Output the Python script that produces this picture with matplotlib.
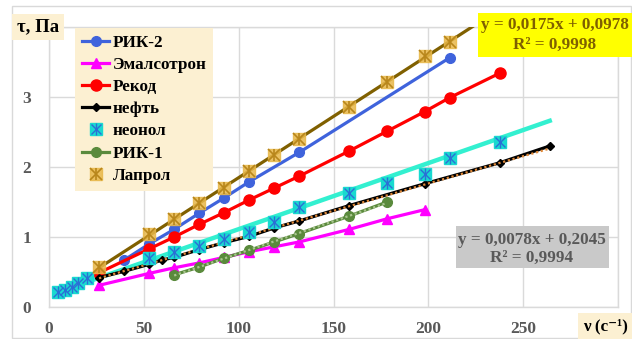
import matplotlib
matplotlib.use("Agg")
import matplotlib.pyplot as plt
import numpy as np
from matplotlib.lines import Line2D
from matplotlib.patches import Rectangle
from matplotlib.legend_handler import HandlerTuple

# ---- data ----
x_rik2 = [39.6, 52.8, 66, 79.2, 92.4, 105.6, 132, 211.2]
y_rik2 = [0.67, 0.90, 1.11, 1.34, 1.56, 1.79, 2.21, 3.56]

x_emal = [26.4, 52.8, 66, 79.2, 92.4, 105.6, 118.8, 132, 158.4, 178.2, 198]
y_emal = [0.31, 0.48, 0.56, 0.63, 0.71, 0.79, 0.86, 0.93, 1.11, 1.26, 1.39]

x_rekod = [26.4, 52.8, 66, 79.2, 92.4, 105.6, 118.8, 132, 158.4, 178.2, 198, 211.2, 237.6]
y_rekod = [0.49, 0.83, 1.00, 1.18, 1.35, 1.53, 1.70, 1.87, 2.23, 2.51, 2.79, 2.99, 3.34]

x_neft = [26.4, 39.6, 52.8, 59.4, 66, 79.2, 92.4, 105.6, 118.8, 132, 158.4, 198, 237.6, 264]
y_neft = [0.42, 0.51, 0.61, 0.67, 0.71, 0.82, 0.92, 1.01, 1.13, 1.23, 1.45, 1.76, 2.06, 2.30]

x_neon = [4.5, 8.5, 12, 15.5, 20, 52.8, 66, 79.2, 92.4, 105.6, 118.8, 132, 158.4, 178.2, 198, 211.2, 237.6]
y_neon = [0.21, 0.24, 0.29, 0.34, 0.41, 0.70, 0.79, 0.87, 0.97, 1.07, 1.21, 1.43, 1.63, 1.77, 1.90, 2.13, 2.36]

x_rik1 = [66, 79.2, 92.4, 105.6, 118.8, 132, 158.4, 178.2]
y_rik1 = [0.46, 0.57, 0.70, 0.81, 0.93, 1.05, 1.30, 1.50]

x_lap = [26.4, 52.8, 66, 79.2, 92.4, 105.6, 118.8, 132, 158.4, 178.2, 198, 211.2]
y_lap = [0.57, 1.04, 1.26, 1.48, 1.70, 1.94, 2.17, 2.40, 2.86, 3.21, 3.58, 3.79]

lap_coef = (0.0175, 0.0978)
neft_coef = (0.0078, 0.2045)
neon_coef = (0.00944, 0.168)   # trendline
neon_trend_end = 264
lap_trend_end = 240

labels = ["РИК-2", "Эмалсотрон", "Рекод", "нефть", "неонол", "РИК-1", "Лапрол"]
x_ticks = [0, 50, 100, 150, 200, 250]
y_ticks = [0, 1, 2, 3]

# ---- style ----
SERIF = ["Liberation Serif", "DejaVu Serif"]
plt.rcParams["font.family"] = SERIF
plt.rcParams["font.weight"] = "bold"

c_blue = "#3F63DC"
c_mag = "#FF00FF"
c_red = "#FF0000"
c_black = "#000000"
c_cyan = "#19D9D0"
c_turq = "#33F0D0"
c_green = "#5A8A3C"
c_gold = "#E8B84A"
c_olive = "#806000"
grid_c = "#DADADA"
tick_c = "#595959"

fig = plt.figure(figsize=(6.32, 3.39), dpi=100)
fig.patch.set_facecolor("white")
W, H = 632, 339
L, R, T, B = 49, 618, 27, 307
ax = fig.add_axes([L / W, (H - B) / H, (R - L) / W, (B - T) / H])

# outer chart border
fig.add_artist(Rectangle((12 / W, 1 / H), (W - 13) / W, (H - 7) / H,
                         transform=fig.transFigure, fill=False,
                         edgecolor="#D9D9D9", lw=1.0))

ax.set_xlim(0, 300)
ax.set_ylim(0, 4)
ax.set_xticks(np.arange(0, 301, 50))
ax.set_yticks(np.arange(0, 4.01, 1))
ax.grid(True, color=grid_c, lw=1.0)
ax.set_axisbelow(True)
for s in ax.spines.values():
    s.set_color(grid_c)
    s.set_linewidth(1.0)
ax.tick_params(length=0, colors=tick_c, labelsize=12.5)
ax.set_xticklabels([str(v) for v in x_ticks] + [""])
ax.set_yticklabels([str(v) for v in y_ticks] + [""])
ax.tick_params(axis="x", pad=10)
ax.tick_params(axis="y", pad=13)
for lab in ax.get_xticklabels() + ax.get_yticklabels():
    lab.set_fontweight("bold")

lw = 2.3
ms = 7

# Laprol trendline
xl = np.array([x_lap[0], lap_trend_end])
ax.plot(xl, lap_coef[0] * xl + lap_coef[1], color=c_olive, lw=2.3, zorder=3)

# neonol trendline
xn = np.array([x_neon[0], neon_trend_end])
ax.plot(xn, neon_coef[0] * xn + neon_coef[1], color=c_turq, lw=3.2, zorder=3)

# series
ax.plot(x_rik2, y_rik2, color=c_blue, lw=lw, marker="o", ms=ms, zorder=4)
ax.plot(x_emal, y_emal, color=c_mag, lw=lw, marker="^", ms=ms, zorder=4)
ax.plot(x_rekod, y_rekod, color=c_red, lw=lw, marker="o", ms=ms + 1, zorder=4)
ax.plot(x_neft, y_neft, color=c_black, lw=lw, marker="D", ms=4.5, zorder=4)
xf = np.array([x_neft[0], x_neft[-1]])
ax.plot(xf, neft_coef[0] * xf + neft_coef[1], color="#E08A3A", lw=1.6,
        ls=(0, (1, 1.2)), zorder=5)
ax.plot(x_rik1, y_rik1, color=c_green, lw=lw, marker="o", ms=ms, zorder=4)
k1 = np.polyfit(x_rik1, y_rik1, 1)
xr = np.array([x_rik1[0], x_rik1[-1]])
ax.plot(xr, np.polyval(k1, xr), color="#A9C58F", lw=1.6, ls=(0, (1, 1.2)), zorder=5)

# neonol markers
ax.plot(x_neon, y_neon, ls="none", marker="s", ms=8.5, mfc=c_cyan, mec=c_cyan, zorder=6)
ax.plot(x_neon, y_neon, ls="none", marker="x", ms=7, mec="#2B6FD6", mew=1.0, zorder=7)
ax.plot(x_neon, y_neon, ls="none", marker="|", ms=8, mec="#2B6FD6", mew=1.0, zorder=7)
# Laprol markers
ax.plot(x_lap, y_lap, ls="none", marker="s", ms=9, mfc=c_gold, mec=c_gold, alpha=0.85, zorder=6)
ax.plot(x_lap, y_lap, ls="none", marker="x", ms=8, mec="#B8861B", mew=1.2, zorder=7)
ax.plot(x_lap, y_lap, ls="none", marker="|", ms=9, mec="#B8861B", mew=1.2, zorder=7)

# legend
h = [
    Line2D([], [], color=c_blue, lw=lw, marker="o", ms=ms),
    Line2D([], [], color=c_mag, lw=lw, marker="^", ms=ms),
    Line2D([], [], color=c_red, lw=lw, marker="o", ms=ms + 1),
    Line2D([], [], color=c_black, lw=lw, marker="D", ms=4.5),
    (Line2D([], [], ls="none", marker="s", ms=8.5, mfc=c_cyan, mec=c_cyan),
     Line2D([], [], ls="none", marker="x", ms=7, mec="#2B6FD6", mew=1.0),
     Line2D([], [], ls="none", marker="|", ms=8, mec="#2B6FD6", mew=1.0)),
    Line2D([], [], color=c_green, lw=lw, marker="o", ms=ms),
    (Line2D([], [], ls="none", marker="s", ms=9, mfc=c_gold, mec=c_gold, alpha=0.85),
     Line2D([], [], ls="none", marker="x", ms=8, mec="#B8861B", mew=1.2),
     Line2D([], [], ls="none", marker="|", ms=9, mec="#B8861B", mew=1.2)),
]
leg = ax.legend(h, labels, loc="upper left",
                bbox_to_anchor=((75 - L) / (R - L), (B - 28) / (B - T)),
                borderaxespad=0, frameon=True, fancybox=False,
                facecolor="#FCF0D2", edgecolor="none", framealpha=1,
                prop={"family": SERIF, "weight": "bold", "size": 12.3},
                handlelength=1.6, handletextpad=0.2, labelspacing=0.36,
                borderpad=0.4, numpoints=1,
                handler_map={tuple: HandlerTuple(ndivide=1, pad=0)})
leg.set_zorder(10)

# y label box
fig.text(38 / W, 1 - 27 / H, "τ, Па", ha="center", va="center",
         fontsize=13.5, fontweight="bold", color="#000000", family=SERIF,
         bbox=dict(boxstyle="square,pad=0.25", fc="#FCF0D2", ec="none"))
# x label box
fig.text(583 / W, 1 - 326 / H, "ν (c⁻¹)", ha="left", va="center",
         fontsize=12.3, fontweight="bold", color="#000000", family=SERIF,
         bbox=dict(boxstyle="square,pad=0.3", fc="#FCF0D2", ec="none"))

# equation boxes
fig.add_artist(Rectangle((478 / W, 1 - 57 / H), (W - 478) / W, 44 / H,
                         transform=fig.transFigure, fc="#FFFF00", ec="none", zorder=11))
fig.text(555 / W, 1 - 25 / H, "y = 0,0175x + 0,0978", ha="center", va="center",
         fontsize=12.3, fontweight="bold", color="#7F6000", family=SERIF, zorder=12)
fig.text(555 / W, 1 - 45 / H, "R² = 0,9998", ha="center", va="center",
         fontsize=12.3, fontweight="bold", color="#7F6000", family=SERIF, zorder=12)

fig.add_artist(Rectangle((456 / W, 1 - 268 / H), 153 / W, 42 / H,
                         transform=fig.transFigure, fc="#C9C9C9", ec="none", zorder=11))
fig.text(532 / W, 1 - 240 / H, "y = 0,0078x + 0,2045", ha="center", va="center",
         fontsize=12.3, fontweight="bold", color="#595959", family=SERIF, zorder=12)
fig.text(532 / W, 1 - 258 / H, "R² = 0,9994", ha="center", va="center",
         fontsize=12.3, fontweight="bold", color="#595959", family=SERIF, zorder=12)

fig.savefig("out.png", dpi=100, facecolor="white")
